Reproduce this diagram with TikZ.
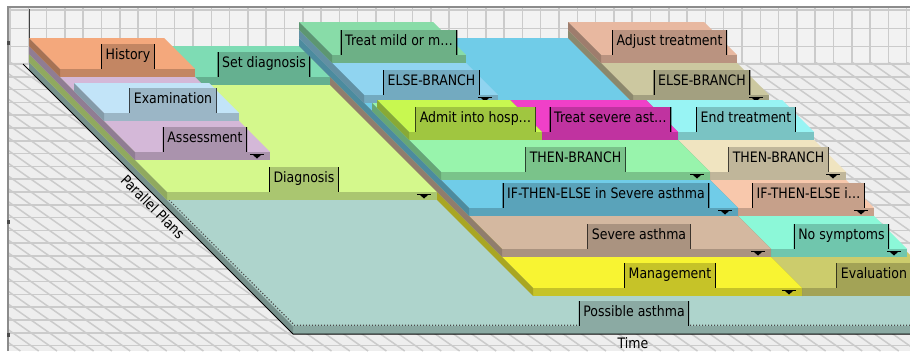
\documentclass[tikz,border=0pt]{standalone}
\usepackage{fontspec}
\newfontfamily\lblfont{DejaVu Sans}[FakeStretch=0.87]
\definecolor{cRoot}{HTML}{AED4CC}
\definecolor{cDiag}{HTML}{D4F88C}
\definecolor{cAsses}{HTML}{D4B8D8}
\definecolor{cExam}{HTML}{C2E4F8}
\definecolor{cHist}{HTML}{F4A87C}
\definecolor{cSetd}{HTML}{7EDCB4}
\definecolor{cMgmt}{HTML}{F8F432}
\definecolor{cEval}{HTML}{CCCC6C}
\definecolor{cSev}{HTML}{D4B8A0}
\definecolor{cNosym}{HTML}{8CF8D8}
\definecolor{cIfA}{HTML}{70CCE8}
\definecolor{cIfB}{HTML}{F8C8AC}
\definecolor{cThenA}{HTML}{98F4AC}
\definecolor{cThenB}{HTML}{F0E4C0}
\definecolor{cElseA}{HTML}{90D4F0}
\definecolor{cElseB}{HTML}{CCC8A0}
\definecolor{cMild}{HTML}{88DCA8}
\definecolor{cAdmit}{HTML}{C8F850}
\definecolor{cTsev}{HTML}{F040C8}
\definecolor{cEnd}{HTML}{98F4F4}
\definecolor{cAdj}{HTML}{E8B8A0}
\definecolor{bgfloor}{HTML}{EEEEEE}
\definecolor{gridc}{HTML}{CBCBCB}
\tikzset{
  lbl/.style={anchor=south, minimum height=25pt, inner xsep=4.5pt, inner ysep=0pt,
    text height=10.5pt, text depth=4pt,
    path picture={\draw[line width=2pt,black]
      (path picture bounding box.south west) -- (path picture bounding box.north west)
      (path picture bounding box.south east) -- (path picture bounding box.north east);}},
  gridline/.style={draw=gridc, line width=1.5pt},
  axisline/.style={draw=black, line width=1pt},
}
% #1 T1, #2 T2, #3 g1, #4 g2, #5 level, #6 colour
\newcommand\slab[6]{%
  \fill[#6] ({#1+#3-33},{#3-8*#5}) -- ({#2+#3-33},{#3-8*#5}) -- ({#2+#4-33},{#4-8*#5}) -- ({#1+#4-33},{#4-8*#5}) -- cycle;
  \fill[#6!80!black] ({#1+#4-33},{#4-8*#5}) -- ({#2+#4-33},{#4-8*#5}) -- ({#2+#4-33},{#4-8*#5+8}) -- ({#1+#4-33},{#4-8*#5+8}) -- cycle;
  \fill[#6!68!black] ({#1+#3-33},{#3-8*#5}) -- ({#1+#4-33},{#4-8*#5}) -- ({#1+#4-33},{#4-8*#5+8}) -- ({#1+#3-33},{#3-8*#5+8}) -- cycle;
}
% #1 name, #2 centre x, #3 g2, #4 level, #5 colour, #6 text
\newcommand\plabel[6]{%
  \node[lbl, fill=#5!80!black] (#1) at (#2,{#3-8*#4}) {#6};}
% #1 T2, #2 g2, #3 level
\newcommand\childmark[3]{%
  \fill[black] ({#1+#2-33-20},{#2-8*#3+2.2}) rectangle ({#1+#2-33-6},{#2-8*#3+3.4});
  \fill[black] ({#1+#2-33-17},{#2-8*#3+3}) -- ({#1+#2-33-9},{#2-8*#3+3}) -- ({#1+#2-33-13},{#2-8*#3+6.5}) -- cycle;}
\begin{document}
\begin{tikzpicture}[x=1pt,y=-1pt,font={\lblfont\fontsize{14.4pt}{17pt}\selectfont}]
\useasboundingbox (0,0) rectangle (910,351);
\fill[white] (0,0) rectangle (910,351);
\fill[bgfloor] (8,7) rectangle (910,351);
% wall
\begin{scope}
  \clip (8,7) rectangle (910,62);
  \fill[white!95!black] (8,7) rectangle (910,62);
  \foreach \i in {0,...,49} \draw[gridline] ({10+18.3*\i},7) -- ++(0,56);
  \foreach \yy in {10,28.3,46.6} \draw[gridline] (8,\yy) -- (910,\yy);
\end{scope}
% floor
\begin{scope}
  \clip (8,62) rectangle (910,351);
  \foreach \i in {0,...,22} \draw[gridline] (8,{64+12.8*\i}) -- (910,{64+12.8*\i});
  \foreach \i in {-25,...,50} \draw[gridline] ({10+18.3*\i},62) -- ++(413,289);
\end{scope}
\draw[black!45, line width=1.2pt] (8,351) -- (8,7) -- (910,7);
\foreach \yy in {43,222,335} \fill[black!70] (7,{\yy-2}) rectangle (9.5,{\yy+2});
\draw[black!75, line width=1pt] (29.3,9) -- (29.3,70);
\begin{scope}
\clip (8,7) rectangle (910,351);
% level 0
\slab{0}{680}{62}{326}{0}{cRoot}
\draw[black!70, line width=1.2pt, dash pattern=on 1.2pt off 1.8pt] (31,62) -- (294.5,325.3) -- (910,325.3);
\plabel{possible}{634}{326}{0}{cRoot}{Possible asthma}
% level 1
\slab{539}{680}{62}{296}{1}{cEval}
\plabel{evaluation}{874}{296}{1}{cEval}{Evaluation}
\slab{270}{539}{62}{296}{1}{cMgmt}
\childmark{539}{296}{1}
\plabel{management}{670}{296}{1}{cMgmt}{Management}
\slab{0}{270}{62}{200}{1}{cDiag}
\childmark{270}{200}{1}
\plabel{diagnosis}{304}{200}{1}{cDiag}{Diagnosis}
% level 2
\slab{539}{675}{62}{265}{2}{cNosym}
\childmark{675}{265}{2}
\plabel{nosym}{841.5}{265}{2}{cNosym}{No symptoms}
\slab{270}{539}{62}{265}{2}{cSev}
\childmark{539}{265}{2}
\plabel{severe}{639}{265}{2}{cSev}{Severe asthma}
\slab{135}{270}{62}{93}{2}{cSetd}
\plabel{setdiag}{264}{93}{2}{cSetd}{Set diagnosis}
\slab{0}{135}{62}{168}{2}{cAsses}
\childmark{135}{168}{2}
\plabel{assessment}{205}{168}{2}{cAsses}{Assessment}
% level 3
\slab{539}{675}{62}{232}{3}{cIfB}
\childmark{675}{232}{3}
\plabel{ifb}{808.5}{232}{3}{cIfB}{IF-THEN-ELSE i…}
\slab{270}{539}{62}{232}{3}{cIfA}
\childmark{539}{232}{3}
\plabel{ifa}{606}{232}{3}{cIfA}{IF-THEN-ELSE in Severe asthma}
\slab{0}{135}{62}{93}{3}{cHist}
\plabel{history}{128}{93}{3}{cHist}{History}
\slab{0}{135}{107}{137}{3}{cExam}
\plabel{exam}{173}{137}{3}{cExam}{Examination}
% level 4
\slab{539}{675}{62}{127}{4}{cElseB}
\childmark{675}{127}{4}
\plabel{elseb}{702}{127}{4}{cElseB}{ELSE-BRANCH}
\slab{539}{675}{135}{204}{4}{cThenB}
\childmark{675}{204}{4}
\plabel{thenb}{778.5}{204}{4}{cThenB}{THEN-BRANCH}
\slab{270}{404}{62}{127}{4}{cElseA}
\childmark{404}{127}{4}
\plabel{elsea}{431.5}{127}{4}{cElseA}{ELSE-BRANCH}
\slab{270}{539}{135}{204}{4}{cThenA}
\childmark{539}{204}{4}
\plabel{thena}{575.5}{204}{4}{cThenA}{THEN-BRANCH}
% level 5
\slab{539}{675}{62}{95}{5}{cAdj}
\plabel{adjust}{669.5}{95}{5}{cAdj}{Adjust treatment}
\slab{539}{675}{140}{172}{5}{cEnd}
\plabel{endt}{746}{172}{5}{cEnd}{End treatment}
\slab{403}{539}{140}{172}{5}{cTsev}
\plabel{tsevere}{610.5}{172}{5}{cTsev}{Treat severe ast…}
\slab{270}{404}{62}{95}{5}{cMild}
\plabel{tmild}{399}{95}{5}{cMild}{Treat mild or m…}
\slab{270}{403}{140}{172}{5}{cAdmit}
\plabel{admit}{475.5}{172}{5}{cAdmit}{Admit into hosp…}
\end{scope}
% axes
\coordinate (axtop) at (23,64);
\coordinate (axorigin) at (293,334);
\coordinate (axend) at (910,334);
\draw[axisline] (axtop) -- (axorigin) -- (axend);
\node[rotate=-45, inner sep=0pt] (parplans) at (153,207) {Parallel Plans};
\node[anchor=north, inner sep=0pt] (time) at (633,337) {Time};
\end{tikzpicture}
\end{document}
